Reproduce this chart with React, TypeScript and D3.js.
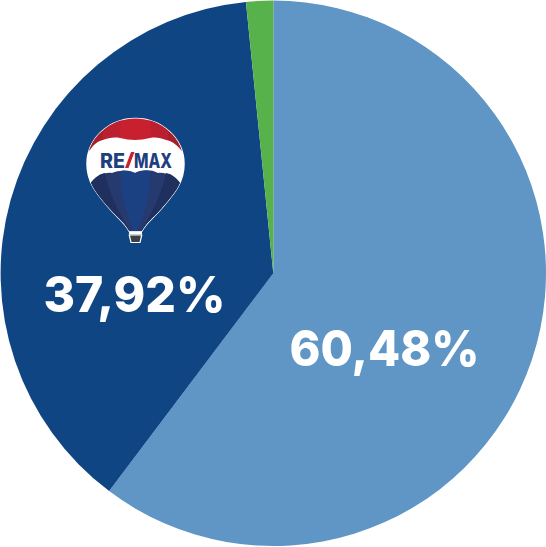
import React from "react";
import * as d3 from "d3";

const categories = ["A", "RE/MAX", "Other"];
const shares = [60.28, 38.12, 1.6];
const sliceColors = ["#5f96c5", "#104584", "#58b24c"];
const valueLabels = ["60,48%", "37,92%", null];

const W = 546;
const H = 547;
const cx = 273.3;
const cy = 273.3;
const R = 272.7;

function Balloon() {
  const outline = "M135.5 118.5 C162 118.5 184 139 184 164 C184 184 172 196 161 209 C153 218 145 224 142 231 L129 231 C126 224 118 218 110 209 C99 196 87 184 87 164 C87 139 109 118.5 135.5 118.5 Z";
  const wordmark = { fontFamily: "Inter, 'Open Sans', sans-serif", fontWeight: 800, fontSize: 20, fill: "#1f3f7f" };
  return (
    <g>
      <defs>
        <clipPath id="balloon-clip"><path d={outline} /></clipPath>
      </defs>
      <path d={outline} fill="#ffffff" stroke="#ffffff" strokeWidth={1.5} />
      <g clipPath="url(#balloon-clip)">
        <rect x={85} y={116} width={102} height={36} fill="#c8202f" />
        <path d="M85 116 H108 C104 125 102 132 103 141 L88 152 H85 Z" fill="#a81f2c" />
        <path d="M186 116 H163 C167 125 169 132 168 141 L183 152 H186 Z" fill="#a81f2c" />
        <path d="M108 116 H122 C120 125 120 132 120 139 L103 141 C102 132 104 125 108 116 Z" fill="#bb2030" />
        <path d="M163 116 H149 C151 125 151 132 151 139 L168 141 C169 132 167 125 163 116 Z" fill="#bb2030" />
        <path d="M84 152 L90 150 C94 144 98 141 103 140 C108 138 114 137 120 138 C125 139 130 140 135 140 C140 140 145 139 150 138 C156 137 161 138 166 140 C172 141 177 145 181 150 L187 152 V172 L181 183 C173 176 166 172 158 173 C150 169 142 170 135 173 C127 170 119 170 112 173 C104 172 97 176 92 183 L84 175 Z" fill="#ffffff" />
        <path d="M90 184 C96 176 104 172 112 173 C119 170 127 170 135 173 C142 170 150 169 158 173 C166 172 173 176 181 184 L170 205 L142 235 H129 L100 205 Z" fill="#263a70" />
        <path d="M90 184 C96 176 100 174 105 173 C108 190 118 212 130 231 L105 210 Z" fill="#1f2f5e" />
        <path d="M181 184 C175 176 171 174 166 173 C163 190 153 212 141 231 L166 210 Z" fill="#1f2f5e" />
        <path d="M121 171 C127 170 131 171 135 173 C140 170 146 170 150 171 C151 190 145 215 137 232 H134 C126 215 120 190 121 171 Z" fill="#1c4182" />
      </g>
      <path d="M129 231.5 H142 V234.5 H129 Z" fill="#ffffff" />
      <path d="M128.5 234.5 H142.5 L140.5 243 H130.5 Z" fill="#ffffff" />
      <path d="M130 235.5 H141 L139.5 242 H131.5 Z" fill="#3c3f45" />
      <text x={100} y={168} {...wordmark} textLength={25} lengthAdjust="spacingAndGlyphs">RE</text>
      <path d="M125 168 L131 152 H134.5 L128.5 168 Z" fill="#c8202f" />
      <text x={134} y={168} {...wordmark} textLength={38} lengthAdjust="spacingAndGlyphs">MAX</text>
    </g>
  );
}

export default function App() {
  const pie = d3.pie<number>().sort(null).value((d) => d);
  const arc = d3.arc<d3.PieArcDatum<number>>().innerRadius(0).outerRadius(R);
  const arcs = pie(shares);
  const labelPos = [
    { x: 384.5, y: 366, len: 190 },
    { x: 134.5, y: 312, len: 182 },
  ];
  return (
    <svg width={W} height={H} viewBox={`0 0 ${W} ${H}`} style={{ position: "absolute", left: 0, top: 0, display: "block" }}>
      <rect width={W} height={H} fill="#ffffff" />
      <g transform={`translate(${cx},${cy})`}>
        {arcs.map((a, i) => (
          <path key={categories[i]} d={arc(a) ?? ""} fill={sliceColors[i]} />
        ))}
      </g>
      <Balloon />
      {valueLabels.map((t, i) =>
        t ? (
          <text key={t} x={labelPos[i].x} y={labelPos[i].y} textAnchor="middle" fontFamily="Inter, sans-serif" fontWeight={800} fontSize={50} fill="#ffffff" textLength={labelPos[i].len} lengthAdjust="spacingAndGlyphs">
            {t}
          </text>
        ) : null
      )}
    </svg>
  );
}
